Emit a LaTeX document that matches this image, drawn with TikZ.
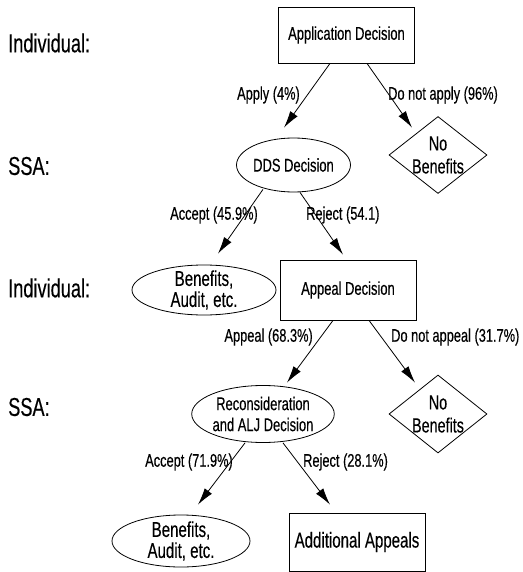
\documentclass[tikz,border=0pt]{standalone}
\usepackage{fontspec}
\setmainfont{Liberation Sans}[FakeStretch=0.7,FakeBold=0.3]
\usepackage{tikz}
\usetikzlibrary{shapes.geometric,arrows.meta,positioning}
\tikzstyle{block}=[
draw,
line width=0.8pt,
minimum width=136pt,
minimum height=58pt,
text centered,
font=\fontsize{18.5}{21}\selectfont
]
\tikzstyle{oval}=[
draw,
ellipse,
line width=0.8pt,
inner sep=0pt,
inner ysep=-4pt,
align=center,
font=\fontsize{18.5}{21}\selectfont
]
\tikzstyle{halt}=[
draw,
diamond,
line width=0.8pt,
inner sep=-4pt,
aspect=1.26,
minimum width=98pt,
minimum height=77pt,
align=center,
font=\fontsize{20.5}{23}\selectfont
]
\tikzstyle{side}=[
anchor=west,
inner sep=0pt,
font=\fontsize{26}{28}\selectfont
]
\tikzstyle{choice}=[
inner sep=0pt,
font=\fontsize{18.3}{20}\selectfont
]
\tikzstyle{arrow}=[
line width=0.8pt,
-{Latex[length=17pt,width=9pt]}
]

\begin{document}
\begin{tikzpicture}[x=1pt,y=-1pt]
\useasboundingbox (0,0) rectangle (522,572);

% who decides
\node (who1) [side] at (8,43) {Individual:};
\node (who2) [side] at (8,166) {SSA:};
\node (who3) [side] at (8,288) {Individual:};
\node (who4) [side] at (8,407) {SSA:};

\node (apply) [block, minimum height=56pt] at (346.5,35) {Application Decision};
\node (nobenA) [halt] at (438,155) {No\\Benefits};
\node (dds) [oval, minimum width=114pt, minimum height=54pt] at (293.5,165) {DDS Decision};
\node (benA) [oval, minimum width=144pt, minimum height=50pt, font=\fontsize{21.5}{21}\selectfont] at (204,290) {Benefits,\\Audit, etc.};
\node (appeal) [block, minimum height=60pt] at (348,290) {Appeal Decision};
\node (nobenB) [halt, minimum height=78pt] at (438,414) {No\\Benefits};
\node (recon) [oval, minimum width=135pt, minimum height=57pt] at (263,414) {Reconsideration\\and ALJ Decision};
\node (benB) [oval, minimum width=138pt, minimum height=52pt, font=\fontsize{21.5}{21}\selectfont] at (181,541) {Benefits,\\Audit, etc.};
\node (more) [block, font=\fontsize{21.5}{24}\selectfont] at (357,542) {Additional Appeals};

\draw [arrow] ([xshift=-16.5pt]apply.south) -- ([xshift=-9.5pt,yshift=10pt]dds.north);
\draw [arrow] ([xshift=20.5pt]apply.south) -- ([xshift=-26pt,yshift=-11.5pt]nobenA.north);
\draw [arrow] ([xshift=-30.5pt,yshift=3pt]dds.south) -- ([xshift=14pt,yshift=11pt]benA.north);
\draw [arrow] ([xshift=6.5pt]dds.south) -- ([xshift=-5pt,yshift=5pt]appeal.north);
\draw [arrow] ([xshift=-15pt]appeal.south) -- ([xshift=24pt,yshift=2.5pt]recon.north);
\draw [arrow] ([xshift=21pt]appeal.south) -- ([xshift=-23pt,yshift=-8pt]nobenB.north);
\draw [arrow] ([xshift=-18pt]recon.south) -- ([xshift=17pt,yshift=10pt]benB.north);
\draw [arrow] ([xshift=20pt]recon.south) -- ([xshift=-27pt,yshift=8pt]more.north);

\node (applyLbl) [choice, anchor=east] at (300,95) {Apply (4\%)};
\node (noapplyLbl) [choice, anchor=west] at (388,95) {Do not apply (96\%)};
\node (acceptLbl) [choice, anchor=east] at (258,215) {Accept (45.9\%)};
\node (rejectLbl) [choice, anchor=west] at (306,215) {Reject (54.1)};
\node (appealLbl) [choice, anchor=east] at (313,337) {Appeal (68.3\%)};
\node (noappealLbl) [choice, anchor=west] at (391,337) {Do not appeal (31.7\%)};
\node (accept2Lbl) [choice, anchor=east] at (233,462) {Accept (71.9\%)};
\node (reject2Lbl) [choice, anchor=west] at (303,462) {Reject (28.1\%)};

\end{tikzpicture}
\end{document}
